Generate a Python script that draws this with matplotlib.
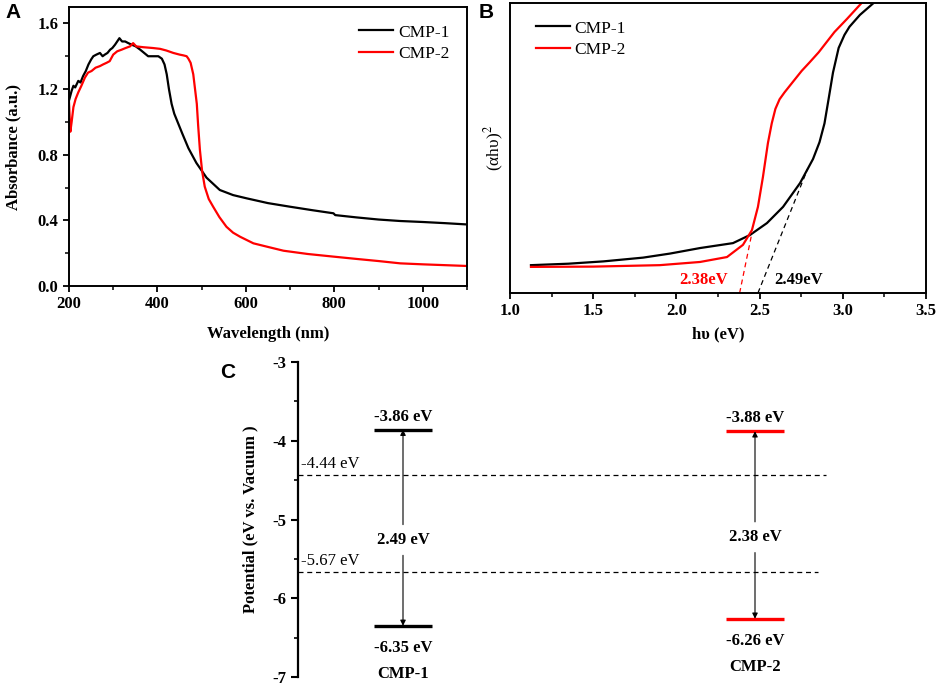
import numpy as np
import matplotlib
matplotlib.use('Agg')
from matplotlib import pyplot as plt
from matplotlib.ticker import MultipleLocator, FormatStrFormatter

plt.rcParams['font.family'] = ['Liberation Serif', 'DejaVu Serif']
plt.rcParams['mathtext.fontset'] = 'stix'
plt.rcParams['axes.unicode_minus'] = False

# ---- panel A: UV-vis absorbance ----
wl_cmp1 = [200, 202, 206, 210, 214, 221, 226, 232, 238, 244, 250, 255, 262, 270, 276, 281, 287, 293,
           298, 304, 309, 314, 320, 327, 334, 342, 351, 361, 370, 379, 390, 402, 410, 416, 421, 426,
           432, 438, 444, 456, 470, 488, 511, 541, 571, 602, 650, 700, 750, 798, 802, 850, 900, 949,
           1000, 1050, 1100]
abs_cmp1 = [1.13, 1.15, 1.19, 1.22, 1.21, 1.25, 1.24, 1.28, 1.31, 1.35, 1.38, 1.40, 1.41, 1.42, 1.40,
            1.41, 1.42, 1.44, 1.45, 1.47, 1.49, 1.51, 1.49, 1.49, 1.48, 1.47, 1.46, 1.44, 1.42, 1.40,
            1.40, 1.40, 1.385, 1.35, 1.29, 1.20, 1.11, 1.05, 1.01, 0.93, 0.84, 0.75, 0.66, 0.585,
            0.554, 0.534, 0.505, 0.483, 0.462, 0.443, 0.432, 0.418, 0.405, 0.396, 0.39, 0.383, 0.375]
wl_cmp2 = [200, 203, 206, 210, 215, 221, 228, 236, 243, 251, 260, 270, 277, 285, 292, 300, 309, 319,
           328, 338, 345, 352, 368, 390, 406, 420, 436, 450, 459, 466, 470, 475, 481, 485, 489, 492,
           496, 501, 507, 516, 526, 540, 556, 571, 587, 617, 650, 685, 740, 798, 850, 900, 949, 1000,
           1050, 1100]
abs_cmp2 = [1.12, 0.94, 1.00, 1.09, 1.14, 1.18, 1.22, 1.27, 1.30, 1.31, 1.33, 1.34, 1.35, 1.36, 1.37,
            1.41, 1.43, 1.44, 1.45, 1.46, 1.48, 1.46, 1.455, 1.45, 1.445, 1.435, 1.42, 1.41, 1.405,
            1.40, 1.385, 1.36, 1.29, 1.20, 1.11, 0.98, 0.83, 0.70, 0.605, 0.53, 0.483, 0.42, 0.361,
            0.325, 0.300, 0.260, 0.238, 0.215, 0.195, 0.179, 0.165, 0.152, 0.138, 0.132, 0.127, 0.122]

# ---- panel B: Tauc plot ----
hv_cmp1 = [1.126, 1.35, 1.561, 1.80, 1.962, 2.142, 2.34, 2.442, 2.544, 2.641, 2.743, 2.821, 2.86,
           2.89, 2.915, 2.941, 2.975, 3.01, 3.04, 3.103, 3.185]
tauc_cmp1 = [0.096, 0.101, 0.109, 0.122, 0.136, 0.155, 0.172, 0.200, 0.241, 0.297, 0.379, 0.462,
             0.52, 0.585, 0.67, 0.76, 0.845, 0.89, 0.918, 0.959, 1.0]
hv_cmp2 = [1.126, 1.5, 1.9, 2.142, 2.304, 2.40, 2.454, 2.49, 2.52, 2.55, 2.573, 2.595, 2.62, 2.65,
           2.70, 2.753, 2.80, 2.855, 2.95, 3.025, 3.113]
tauc_cmp2 = [0.090, 0.091, 0.096, 0.107, 0.124, 0.166, 0.217, 0.297, 0.400, 0.517, 0.585, 0.635,
             0.668, 0.692, 0.728, 0.766, 0.795, 0.83, 0.90, 0.945, 1.0]
gap_cmp1 = 2.49
gap_cmp2 = 2.38
tangent_top_cmp1 = (2.79, 0.43)
tangent_top_cmp2 = (2.455, 0.21)

# ---- panel C: band positions ----
materials = ['CMP-1', 'CMP-2']
lumo = [-3.86, -3.88]
homo = [-6.35, -6.26]
band_gap = [2.49, 2.38]
ref_levels = [-4.44, -5.67]
level_colors = ['black', 'red']

W, H = 941, 687
fig = plt.figure(figsize=(W / 100, H / 100), dpi=100)


def px_rect(left, top, right, bottom):
    return [left / W, 1 - bottom / H, (right - left) / W, (bottom - top) / H]


bold = dict(fontweight='bold', fontsize=12)
leg_kw = dict(frameon=False, fontsize=12.5, handlelength=1.95, handletextpad=0.3,
              labelspacing=0.3, borderaxespad=0.6)

# Panel A
axA = fig.add_axes(px_rect(69, 7, 467, 286))
axA.plot(wl_cmp1, abs_cmp1, color='black', lw=1.6, label='CMP-1')
axA.plot(wl_cmp2, abs_cmp2, color='red', lw=1.6, label='CMP-2')
axA.set_xlim(200, 1100)
axA.set_ylim(0, 1.7)
axA.xaxis.set_major_locator(MultipleLocator(200))
axA.xaxis.set_minor_locator(MultipleLocator(100))
axA.yaxis.set_major_locator(MultipleLocator(0.4))
axA.yaxis.set_minor_locator(MultipleLocator(0.2))
axA.yaxis.set_major_formatter(FormatStrFormatter('%.1f'))
axA.set_xlabel('Wavelength (nm)', labelpad=10, **bold)
axA.set_ylabel('Absorbance (a.u.)', labelpad=12, **bold)
axA.legend(loc='upper right', **leg_kw)

# Panel B
axB = fig.add_axes(px_rect(510, 3, 926, 293))
axB.plot(hv_cmp1, tauc_cmp1, color='black', lw=1.6, label='CMP-1')
axB.plot(hv_cmp2, tauc_cmp2, color='red', lw=1.6, label='CMP-2')
axB.plot([gap_cmp2, tangent_top_cmp2[0]], [0, tangent_top_cmp2[1]], color='red', ls=(0, (4, 3)), lw=0.9)
axB.plot([gap_cmp1, tangent_top_cmp1[0]], [0, tangent_top_cmp1[1]], color='black', ls=(0, (4, 3)), lw=0.9)
axB.text(gap_cmp2 - 0.07, 0.045, f'{gap_cmp2:.2f}eV', color='red', ha='right', va='center', **bold)
axB.text(gap_cmp1 + 0.1, 0.045, f'{gap_cmp1:.2f}eV', color='black', ha='left', va='center', **bold)
axB.set_xlim(1.0, 3.5)
axB.set_ylim(0, 1.0)
axB.xaxis.set_major_locator(MultipleLocator(0.5))
axB.xaxis.set_minor_locator(MultipleLocator(0.25))
axB.xaxis.set_major_formatter(FormatStrFormatter('%.1f'))
axB.set_yticks([])
axB.set_xlabel('hυ (eV)', labelpad=5, **bold)
axB.set_ylabel('(αhυ)$^2$', fontsize=12.5, labelpad=3)
axB.legend(loc='upper left', bbox_to_anchor=(0.02, 1.0), **leg_kw)

for ax in (axA, axB):
    for s in ax.spines.values():
        s.set_linewidth(1.4)
    ax.tick_params(which='major', direction='out', length=4, width=1.3, labelsize=12)
    ax.tick_params(which='minor', direction='out', length=3, width=1.1)
    for lab in ax.get_xticklabels() + ax.get_yticklabels():
        lab.set_fontweight('bold')

# Panel C
axC = fig.add_axes(px_rect(298, 362, 830, 677))
x_pos = [1.05, 4.57]
half = 0.29
for i, name in enumerate(materials):
    c = level_colors[i]
    x = x_pos[i]
    axC.hlines([lumo[i], homo[i]], x - half, x + half, color=c, lw=2.4)
    axC.annotate(f'{lumo[i]:.2f} eV', (x, lumo[i]), xytext=(0, 5), textcoords='offset pixels',
                 ha='center', va='bottom', **bold)
    axC.annotate(f'{homo[i]:.2f} eV', (x, homo[i]), xytext=(0, -14), textcoords='offset pixels',
                 ha='center', va='top', **bold)
    axC.annotate(name, (x, homo[i]), xytext=(0, -48), textcoords='offset pixels',
                 ha='center', va='center', **bold)
    mid = (lumo[i] + homo[i]) / 2 - 0.15
    axC.text(x, mid, f'{band_gap[i]:.2f} eV', ha='center', va='center', **bold)
    axC.annotate('', xy=(x, lumo[i]), xytext=(x, mid + 0.19),
                 arrowprops=dict(arrowstyle='-|>', color='black', lw=0.8, mutation_scale=8,
                                 shrinkA=0, shrinkB=0))
    axC.annotate('', xy=(x, homo[i]), xytext=(x, mid - 0.2),
                 arrowprops=dict(arrowstyle='-|>', color='black', lw=0.8, mutation_scale=8,
                                 shrinkA=0, shrinkB=0))

ref_ends = [5.28, 5.20]
for lvl, xe in zip(ref_levels, ref_ends):
    axC.plot([0, xe], [lvl, lvl], color='black', ls=(0, (4, 3)), lw=0.9)
    axC.annotate(f'{lvl:.2f} eV', (0, lvl), xytext=(3, 3), textcoords='offset pixels',
                 ha='left', va='bottom', fontsize=12)

axC.set_xlim(0, 5.32)
axC.set_ylim(-7, -3)
axC.yaxis.set_major_locator(MultipleLocator(1))
axC.yaxis.set_minor_locator(MultipleLocator(0.5))
axC.set_xticks([])
for s in ('top', 'right', 'bottom'):
    axC.spines[s].set_visible(False)
axC.spines['left'].set_linewidth(1.6)
axC.tick_params(which='major', direction='out', length=5, width=1.5, labelsize=12)
axC.tick_params(which='minor', direction='out', length=3, width=1.2)
for lab in axC.get_yticklabels():
    lab.set_fontweight('bold')
axC.set_ylabel('Potential (eV vs. Vacuum )', labelpad=10, **bold)

# panel letters
letter = dict(fontsize=15, fontweight='bold', family='Liberation Sans', ha='center', va='center')
fig.text(13 / W, 1 - 13 / H, 'A', **letter)
fig.text(486 / W, 1 - 13 / H, 'B', **letter)
fig.text(228 / W, 1 - 373 / H, 'C', **letter)

fig.savefig('out.png', dpi=100)
